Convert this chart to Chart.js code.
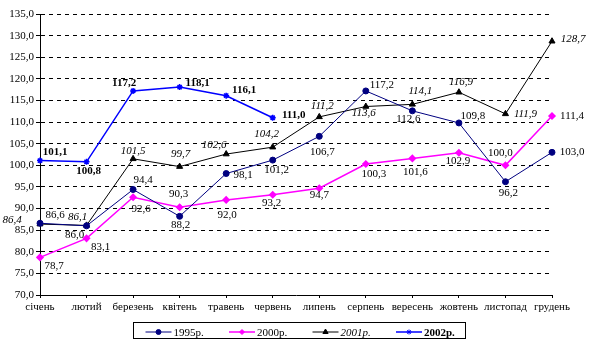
<!DOCTYPE html>
<html lang="uk">
<head>
<meta charset="UTF-8">
<title>Індекси по місяцях</title>
<script src="https://cdn.jsdelivr.net/npm/chart.js"></script>
<style>
  html, body { margin: 0; padding: 0; background: #fff; }
  #wrap { width: 605px; height: 352px; }
</style>
</head>
<body>
<div id="wrap"><canvas id="chart" width="605" height="352"></canvas></div>
<script>
const months = ['січень', 'лютий', 'березень', 'квітень', 'травень', 'червень',
                'липень', 'серпень', 'вересень', 'жовтень', 'листопад', 'грудень'];
const y1995 = [86.6, 86.0, 94.4, 88.2, 98.1, 101.2, 106.7, 117.2, 112.6, 109.8, 96.2, 103.0];
const y2000 = [78.7, 83.1, 92.6, 90.3, 92.0, 93.2, 94.7, 100.3, 101.6, 102.9, 100.0, 111.4];
const y2001 = [86.4, 86.1, 101.5, 99.7, 102.6, 104.2, 111.2, 113.6, 114.1, 116.9, 111.9, 128.7];
const y2002 = [101.1, 100.8, 117.2, 118.1, 116.1, 111.0, null, null, null, null, null, null];
const seriesNames = ['1995р.', '2000р.', '2001р.', '2002р.'];
const yMin = 70, yMax = 135, yStep = 5;

// where each value label sits relative to its point (dx, dy)
const off1995 = [[15,-8],[-12,9],[10,-9],[1,9],[17,2],[4,10],[3,16],[16,-6],[-4,8],[14,-7],[3,11],[20,0]];
const off2000 = [[14,9],[14,9],[8,12],[-1,-13],[1,15],[-1,8],[0,7],[8,10],[3,14],[-1,8],[-5,-12],[20,0]];
const off2001 = [[-28,-4],[-9,-8],[0,-8],[1,-12],[-12,-9],[-6,-13],[3,-11],[-2,7],[8,-13],[2,-10],[20,0],[21,-2]];
const off2002 = [[15,-8],[2,9],[-9,-8],[18,-4],[18,-6],[21,-3]];

const SERIF = '"Liberation Serif", "Times New Roman", serif';
const fmt = v => v.toFixed(1).replace('.', ',');

const valueLabels = {
  id: 'valueLabels',
  afterDatasetsDraw(chart) {
    const ctx = chart.ctx;
    chart.data.datasets.forEach((ds, i) => {
      const meta = chart.getDatasetMeta(i);
      ctx.save();
      ctx.font = ds.labelFont;
      ctx.fillStyle = '#000';
      ctx.textAlign = 'center';
      ctx.textBaseline = 'middle';
      meta.data.forEach((pt, j) => {
        const v = ds.data[j];
        if (v == null) return;
        const o = ds.labelOffsets[j];
        ctx.fillText(fmt(v), pt.x + o[0], pt.y + o[1]);
      });
      ctx.restore();
    });
  }
};

// boxed legend under the axis, line + marker + name for each series
const boxLegend = {
  id: 'boxLegend',
  afterDraw(chart) {
    const ctx = chart.ctx;
    const xs = chart.scales.x;
    const w = 332, h = 16, itemW = 83.5;
    const left = Math.round((chart.chartArea.left + chart.chartArea.right) / 2 - w / 2 + 3) + 0.5;
    const top = Math.round(xs.bottom + 5) + 0.5;
    ctx.save();
    ctx.strokeStyle = '#000';
    ctx.lineWidth = 1;
    ctx.strokeRect(left, top, w, h);
    const cy = top + 9.5;
    chart.data.datasets.forEach((ds, i) => {
      const x0 = left + 12 + i * itemW;
      ctx.strokeStyle = ds.borderColor;
      ctx.lineWidth = ds.borderWidth;
      ctx.beginPath();
      ctx.moveTo(x0, cy);
      ctx.lineTo(x0 + 26, cy);
      ctx.stroke();
      ctx.fillStyle = ds.pointBackgroundColor;
      ctx.strokeStyle = ds.pointBorderColor;
      ctx.lineWidth = 1;
      Chart.helpers.drawPoint(ctx, {
        pointStyle: ds.pointStyle, radius: ds.pointRadius - 0.5, borderWidth: 1
      }, x0 + 13, cy);
      ctx.font = ds.labelFont;
      ctx.fillStyle = '#000';
      ctx.textAlign = 'left';
      ctx.textBaseline = 'alphabetic';
      ctx.fillText(ds.label, x0 + 28, cy + 4);
    });
    ctx.restore();
  }
};

new Chart(document.getElementById('chart'), {
  type: 'line',
  data: {
    labels: months,
    datasets: [
      {
        label: seriesNames[0], data: y1995, labelOffsets: off1995,
        labelFont: '11px ' + SERIF,
        borderColor: '#000080', borderWidth: 1,
        pointStyle: 'circle', pointRadius: 3,
        pointBackgroundColor: '#000080', pointBorderColor: '#000080'
      },
      {
        label: seriesNames[1], data: y2000, labelOffsets: off2000,
        labelFont: '11px ' + SERIF,
        borderColor: '#ff00ff', borderWidth: 1.5,
        pointStyle: 'rectRot', pointRadius: 3,
        pointBackgroundColor: '#ff00ff', pointBorderColor: '#ff00ff'
      },
      {
        label: seriesNames[2], data: y2001, labelOffsets: off2001,
        labelFont: 'italic 11px ' + SERIF,
        borderColor: '#000000', borderWidth: 1,
        pointStyle: 'triangle', pointRadius: 3.5,
        pointBackgroundColor: '#000000', pointBorderColor: '#000000'
      },
      {
        label: seriesNames[3], data: y2002, labelOffsets: off2002,
        labelFont: 'bold 11px ' + SERIF,
        borderColor: '#0000ff', borderWidth: 1.5,
        pointStyle: 'star', pointRadius: 3,
        pointBackgroundColor: '#0000ff', pointBorderColor: '#0000ff'
      }
    ]
  },
  options: {
    responsive: false,
    animation: false,
    events: [],
    layout: { padding: { top: 14, right: 53, bottom: 35, left: 0 } },
    elements: { line: { tension: 0 }, point: { borderWidth: 1 } },
    plugins: { legend: { display: false }, tooltip: { enabled: false } },
    scales: {
      x: {
        offset: false,
        grid: { display: true, drawOnChartArea: false, drawTicks: true, tickLength: 3, color: '#000' },
        border: { display: true, color: '#000', width: 1 },
        ticks: { autoSkip: false, maxRotation: 0, padding: 3, color: '#000', font: { family: SERIF, size: 11 } },
        afterFit: s => { s.height = 22; }
      },
      y: {
        min: yMin, max: yMax,
        grid: { color: '#000', lineWidth: 1, tickLength: 4, tickColor: '#000' },
        border: { display: true, color: '#000', width: 1, dash: [4, 4] },
        ticks: {
          stepSize: yStep, padding: 2, color: '#000',
          font: { family: SERIF, size: 11 },
          callback: v => fmt(v)
        },
        afterFit: s => { s.width = 40; }
      }
    }
  },
  plugins: [valueLabels, boxLegend]
});
</script>
</body>
</html>
